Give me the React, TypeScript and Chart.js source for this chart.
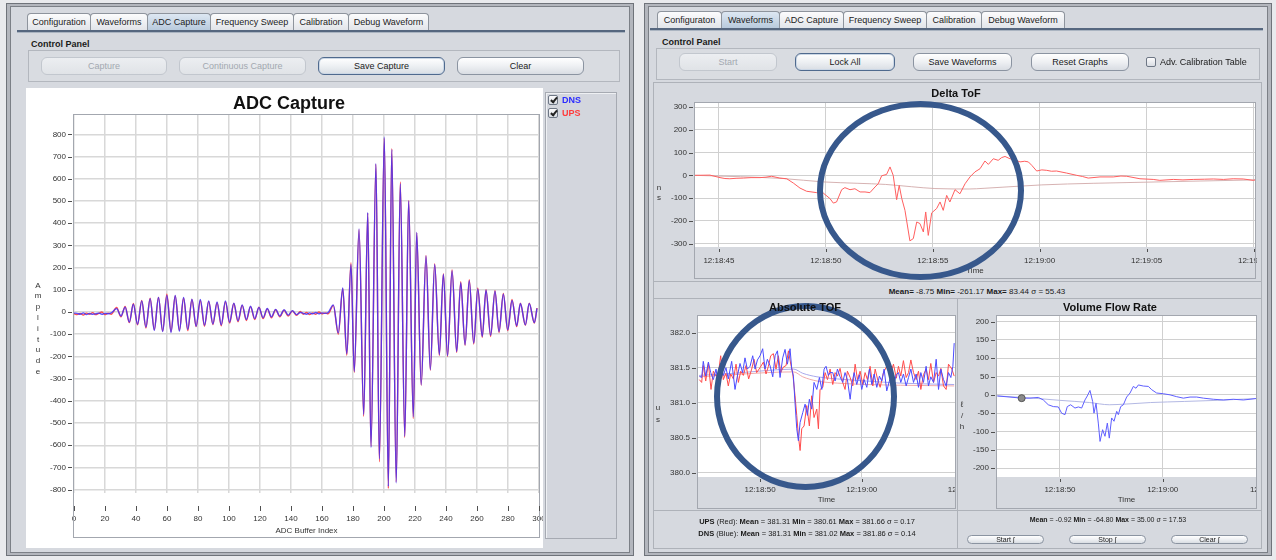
import React, { useEffect, useRef } from "react";
import { Chart, registerables } from "chart.js";
Chart.register(...registerables);

// ---------------- ADC Capture ----------------
const adcIndex = [0,2,4,6,8,10,12,14,16,18,
  20,22,24,27.5,30.3,33,35.7,38.3,41,43.7,
  46.4,49.1,51.8,54.5,57.2,59.9,62.6,65.3,68,70.7,
  73.4,76.1,78.8,81.5,84.2,86.9,89.6,92.3,95,97.7,
  100.4,103.1,105.8,108.5,111.2,113.9,116.6,119.3,122,124.7,
  127.4,130.1,132.8,135.5,138.2,140.9,143.6,146,148,150,
  152,154,156,158,160,162,164,167.3,170.5,173.4,
  176,178.7,180.8,183.9,186.9,189.5,191.6,194.8,197,200.2,
  202.8,205,207.9,210.5,213.4,215.9,218.9,221.1,224,227.1,
  229.9,232.7,235.7,238.3,241,243.9,246.9,249.5,252.3,255,
  257.9,260.5,263.4,265.8,268.8,271.6,274.2,277,279.8,282.6,
  285.6,288,291.2,293.7,297,298.7];
const adcUps = [-8,-12,-6,-14,-5,-10,-3,-12,-6,0,
  -12,-5,-10,20,-22,25,-48,38,-58,52,
  -72,62,-80,66,-86,80,-88,72,-82,62,
  -84,56,-66,52,-64,48,-56,42,-62,46,
  -50,38,-44,30,-38,24,-34,22,-30,14,
  -26,10,-22,8,-18,5,-15,2,-10,-2,
  -12,-4,-10,0,-8,-4,-8,30,-100,105,
  -195,222,-272,370,-470,445,-605,665,-675,782,
  -795,736,-765,585,-565,502,-480,356,-330,255,
  -262,218,-196,172,-200,190,-182,136,-150,145,
  -144,108,-114,100,-110,96,-92,84,-84,56,
  -66,40,-60,40,-50,18];
const adcDns = [-5,-6,-10,-4,-12,-6,-10,-8,-5,-10,
  -6,-8,-4,15,-18,22,-45,35,-55,50,
  -68,60,-82,65,-88,75,-92,74,-86,66,
  -78,58,-64,56,-60,50,-54,45,-58,50,
  -46,40,-40,32,-34,26,-30,20,-26,16,
  -22,12,-18,10,-14,6,-12,-2,-6,-10,
  -4,-8,-2,-8,-4,-6,-2,32,-94,108,
  -188,214,-268,374,-462,448,-610,668,-662,788,
  -785,732,-770,578,-560,500,-472,358,-328,252,
  -260,214,-192,170,-196,186,-178,132,-148,141,
  -140,104,-110,98,-105,94,-88,80,-80,52,
  -62,38,-58,38,-48,16];
const adcXTicks = [0,20,40,60,80,100,120,140,160,180,200,220,240,260,280,300];
const adcYTicks = [-800,-700,-600,-500,-400,-300,-200,-100,0,100,200,300,400,500,600,700,800];

// ---------------- Delta ToF (time = seconds after 12:18:00) ----------------
const deltaTime = [43.88,44.58,45.05,45.28,45.51,45.8,46.14,46.5,46.92,47.2,
  47.46,47.85,48.17,48.48,48.79,49.1,49.57,49.88,50.19,50.35,
  50.5,50.74,50.89,51.13,51.36,51.6,51.83,52.06,52.3,52.45,
  52.61,52.84,53.0,53.15,53.31,53.43,53.55,53.7,53.93,54.09,
  54.25,54.4,54.56,54.67,54.79,54.95,55.18,55.34,55.49,55.65,
  55.8,56.04,56.27,56.51,56.74,56.97,57.21,57.44,57.6,57.83,
  58.06,58.22,58.38,58.61,58.8,59.08,59.3,59.47,59.63,59.86,
  60.1,60.33,60.55,60.79,61.26,61.73,62.0,62.27,62.82,63.44,
  63.8,64.07,64.69,65.31,65.62,66.25,66.7,67.18,67.7,68.12,
  68.6,69.05,69.52,69.99,70.07];
const deltaValue = [0,1,-10,-14,-15,-13,-12,-10,-10,-8,
  -4,-12,-15,-34,-56,-70,-76,-78,-102,-122,
  -117,-63,-54,-63,-59,-73,-73,-76,-51,-37,
  -2,4,37,0,-107,-44,-102,-154,-288,-278,
  -205,-212,-249,-161,-264,-165,-146,-117,-154,-88,
  -117,-63,-81,-37,-7,15,29,63,48,73,
  66,78,83,73,70,59,62,59,44,19,
  24,22,18,19,10,0,-5,-12,-7,-7,
  -3,-4,-15,-18,-22,-18,-20,-18,-17,-16,
  -18,-15,-16,-22,-20];
const deltaAvgTime = [43.88,46,48,49.9,51.5,52.8,54,55.1,56.7,57.4,58.8,60.1,62.5,65,67.5,70.07];
const deltaAvgValue = [0,-6,-14,-29,-35,-40,-50,-58,-60,-57,-49,-42,-35,-30,-25,-20];
const deltaTimeTicks = [45,50,55,60,65,70];
const deltaYTicks = [-300,-200,-100,0,100,200,300];

// ---------------- Absolute TOF ----------------
const absDnsTime = [44.03,44.26,44.42,44.66,44.92,45.15,45.41,45.67,45.90,46.13,
  46.39,46.65,46.88,47.21,47.54,47.77,48.03,48.29,48.52,48.75,
  49.02,49.28,49.51,49.74,50.00,50.26,50.49,50.72,50.98,51.25,
  51.48,51.71,51.97,52.23,52.46,52.69,52.95,53.12,53.28,53.44,
  53.61,53.77,53.94,54.20,54.43,54.66,54.85,55.08,55.31,55.58,
  55.84,56.07,56.30,56.49,56.72,56.89,57.15,57.38,57.61,57.87,
  58.13,58.36,58.59,58.86,59.02,59.25,59.51,59.77,60.00,60.23,
  60.50,60.76,60.99,61.22,61.48,61.74,61.97,62.20,62.46,62.79,
  63.12,63.40,63.61,63.84,64.10,64.37,64.60,64.83,65.09,65.35,
  65.58,65.81,66.07,66.33,66.56,66.79,67.06,67.32,67.55,67.78,
  68.04,68.30,68.53,68.76,68.96,69.09];
const absDnsValue = [381.38,381.36,381.59,381.38,381.58,381.43,381.33,381.48,381.26,381.43,
  381.39,381.50,381.34,381.59,381.19,381.38,381.56,381.43,381.64,381.48,
  381.52,381.67,381.48,381.61,381.67,381.77,381.48,381.62,381.53,381.37,
  381.67,381.74,381.36,381.64,381.76,381.55,381.77,381.48,381.38,381.00,
  380.63,380.46,380.72,380.86,380.98,380.82,381.05,380.91,381.29,381.19,
  381.36,381.19,381.48,381.52,381.39,381.43,381.43,381.31,381.48,381.37,
  381.29,381.43,381.33,381.05,381.26,381.43,381.26,381.40,381.19,381.33,
  381.22,381.48,381.26,381.41,381.22,381.38,381.31,381.48,381.17,381.35,
  381.25,381.40,381.43,381.29,381.41,381.24,381.36,381.48,381.29,381.41,
  381.22,381.43,381.29,381.52,381.24,381.37,381.29,381.62,381.19,381.48,
  381.33,381.24,381.43,381.36,381.52,381.85];
const absUpsTime = [44.03,44.26,44.42,44.66,44.92,45.18,45.41,45.67,45.90,46.13,
  46.39,46.65,46.88,47.11,47.38,47.64,47.87,48.10,48.36,48.62,
  48.88,49.18,49.41,49.67,50.00,50.33,50.59,50.82,51.05,51.31,
  51.57,51.80,52.03,52.30,52.56,52.79,53.02,53.21,53.44,53.61,
  53.77,53.94,54.10,54.33,54.59,54.85,55.08,55.31,55.58,55.74,
  55.90,56.17,56.40,56.63,56.89,57.15,57.38,57.61,57.87,58.13,
  58.36,58.59,58.86,59.12,59.35,59.58,59.84,60.10,60.33,60.56,
  60.82,61.09,61.32,61.55,61.81,62.14,62.46,62.79,63.12,63.40,
  63.61,63.84,64.10,64.37,64.60,64.83,65.09,65.35,65.58,65.81,
  66.07,66.33,66.56,66.79,67.06,67.32,67.55,67.78,68.04,68.30,
  68.53,68.86,69.09];
const absUpsValue = [381.33,381.29,381.53,381.31,381.56,381.19,381.45,381.38,381.41,381.67,
  381.33,381.42,381.24,381.41,381.34,381.55,381.29,381.45,381.39,381.53,
  381.34,381.48,381.62,381.43,381.50,381.58,381.41,381.52,381.67,381.70,
  381.48,381.67,381.43,381.51,381.53,381.74,381.55,381.43,381.10,380.82,
  380.53,380.32,380.63,380.67,380.96,380.67,381.10,380.79,380.91,380.63,
  381.19,381.22,381.43,381.33,381.48,381.26,381.43,381.38,381.49,381.29,
  381.19,381.45,381.36,381.24,381.55,381.33,381.45,381.26,381.43,381.33,
  381.52,381.24,381.48,381.34,381.22,381.43,381.52,381.40,381.55,381.35,
  381.52,381.38,381.60,381.36,381.43,381.61,381.43,381.33,381.45,381.19,
  381.40,381.48,381.33,381.56,381.29,381.43,381.38,381.49,381.24,381.19,
  381.55,381.48,381.38];
const absAvgTime = [44.03,47.4,50.7,53.3,54.2,55.6,57.6,60.5,63.8,69.09];
const absDnsAvgValue = [381.39,381.42,381.46,381.48,381.42,381.37,381.34,381.31,381.28,381.26];
const absUpsAvgValue = [381.37,381.40,381.43,381.44,381.37,381.31,381.28,381.26,381.25,381.24];
const absTimeTicks = [50,60,70];
const absYTicks = [380.0,380.5,381.0,381.5,382.0];

// ---------------- Volume Flow Rate ----------------
const vfrTime = [43.90,45.13,46.27,47.08,47.89,48.38,48.86,49.35,49.84,50.16,
  50.49,50.71,51.04,51.46,51.79,52.11,52.43,52.66,52.92,53.18,
  53.31,53.51,53.73,53.90,54.15,54.38,54.61,54.80,55.03,55.26,
  55.52,55.68,55.91,56.17,56.49,56.82,57.14,57.40,57.63,58.12,
  58.60,58.93,59.41,60.06,60.71,61.36,62.01,62.66,63.31,63.96,
  64.93,65.91,66.88,67.85,68.50,69.09];
const vfrValue = [-3,-6,-9,-9,-7,-14,-27,-32,-33,-50,
  -54,-32,-27,-36,-33,-36,-14,-3,12,-18,
  -50,-23,-77,-127,-95,-113,-77,-118,-63,-72,
  -45,-54,-32,-27,-6,5,23,18,27,24,
  23,14,5,3,0,-5,-9,-6,-6,-9,
  -12,-14,-12,-14,-12,-10];
const vfrAvgTime = [43.9,47.4,50,52.9,54.8,56.5,58.8,62.1,65.3,69.09];
const vfrAvgValue = [-3,-9,-15,-21,-27,-25,-21,-18,-15,-10];
const vfrMarkerTime = [46.27];
const vfrMarkerValue = [-9];
const vfrTimeTicks = [50,60,70];
const vfrYTicks = [-200,-150,-100,-50,0,50,100,150,200];

// ---------------- helpers ----------------
const FONT = "'Liberation Sans', Arial, 'DejaVu Sans', sans-serif";
const xy = (xs: number[], ys: number[]) => xs.map((x, i) => ({ x, y: ys[i] }));
const timeLabel = (s: number) => {
  const total = 18 * 60 + Math.round(s);
  const m = Math.floor(total / 60);
  const sec = total % 60;
  return `12:${String(m).padStart(2, "0")}:${String(sec).padStart(2, "0")}`;
};
// order: lower numbers are drawn on top
const line = (data: any[], color: string, width: number, smooth: boolean, order: number) => ({
  data, borderColor: color, backgroundColor: color, borderWidth: width, pointRadius: 0, fill: false,
  tension: 0, cubicInterpolationMode: smooth ? "monotone" : "default", order,
});

type Spec = any;

function makeConfig(s: Spec): any {
  const tickFont = { family: FONT, size: 8 };
  const plugin = {
    id: "frame",
    beforeDraw(chart: any) {
      const { ctx, chartArea: a } = chart;
      if (s.bg) {
        ctx.save();
        ctx.fillStyle = "#ffffff";
        ctx.fillRect(a.left, a.top, a.right - a.left, a.bottom - a.top);
        ctx.restore();
      }
    },
    afterDraw(chart: any) {
      const { ctx, chartArea: a, scales } = chart;
      ctx.save();
      ctx.strokeStyle = "#a3a7af";
      ctx.lineWidth = 1;
      ctx.strokeRect(Math.round(a.left) - 0.5, Math.round(a.top) - 0.5, Math.round(a.right - a.left) + 1, s.boxBottom - Math.round(a.top) + 1);
      ctx.strokeStyle = "#505050";
      ctx.beginPath();
      for (const v of s.yTicks) {
        const py = Math.round(scales.y.getPixelForValue(v)) + 0.5;
        ctx.moveTo(a.left - 6, py); ctx.lineTo(a.left - 2, py);
      }
      for (const v of s.xTicks) {
        const px = Math.round(scales.x.getPixelForValue(v)) + 0.5;
        ctx.moveTo(px, a.bottom + s.xMark[0]); ctx.lineTo(px, a.bottom + s.xMark[1]);
      }
      ctx.stroke();
      ctx.restore();
    },
  };
  return {
    type: "line",
    data: { datasets: s.datasets },
    plugins: [plugin],
    options: {
      animation: false,
      responsive: false,
      maintainAspectRatio: false,
      events: [],
      layout: { padding: { left: 0, top: s.area.t, right: s.w - s.area.r, bottom: 0 } },
      plugins: { legend: { display: false }, tooltip: { enabled: false }, title: { display: false } },
      scales: {
        x: {
          type: "linear", min: s.xMin, max: s.xMax,
          border: { display: false },
          grid: { color: s.gridColor, lineWidth: s.gridWidth, drawTicks: false },
          ticks: { font: tickFont, color: "#333", padding: s.xLabelPad, maxRotation: 0, autoSkip: false,
            callback: (v: any) => s.xFmt(Number(v)) },
          afterBuildTicks: (sc: any) => { sc.ticks = s.xTicks.map((v: number) => ({ value: v })); },
          afterFit: (sc: any) => { sc.height = s.h - s.area.b; sc.paddingLeft = 0; sc.paddingRight = 0; },
          title: { display: true, text: s.xTitle, font: tickFont, color: "#333", padding: { top: 0, bottom: s.xTitlePad } },
        },
        y: {
          type: "linear", min: s.yMin, max: s.yMax,
          border: { display: false },
          grid: { color: s.gridColor, lineWidth: s.gridWidth, drawTicks: false },
          ticks: { font: tickFont, color: "#333", padding: 8, autoSkip: false, callback: (v: any) => s.yFmt(Number(v)) },
          afterBuildTicks: (sc: any) => { sc.ticks = s.yTicks.map((v: number) => ({ value: v })); },
          afterFit: (sc: any) => { sc.width = s.area.l; sc.paddingTop = 0; sc.paddingBottom = 0; },
        },
      },
    },
  };
}

function ChartBox({ spec, left, top, clipW, bg }: any) {
  const ref = useRef<HTMLCanvasElement>(null);
  useEffect(() => {
    const c = new Chart(ref.current as HTMLCanvasElement, makeConfig(spec));
    return () => c.destroy();
  }, []);
  return (
    <div style={{ position: "absolute", left, top, width: clipW, height: spec.h, overflow: "hidden", background: bg || "transparent" }}>
      <canvas ref={ref} width={spec.w} height={spec.h} style={{ display: "block", width: spec.w, height: spec.h }} />
    </div>
  );
}

const S = (l: number, t: number, w: number, h: number, x: any = {}): any => ({
  position: "absolute", left: l, top: t, width: w, height: h, boxSizing: "border-box", ...x,
});

function Tab({ l, r, t, text, sel }: any) {
  return (
    <div style={S(l, t, r - l + 1, 18, {
      border: "1px solid #8e949d", borderBottom: "none", borderRadius: "4px 4px 0 0",
      background: sel ? "linear-gradient(#dde7f2,#b6c8db)" : "linear-gradient(#fcfcfd,#e0e3e8)",
      font: `9px ${FONT}`, color: "#1c1c1c", textAlign: "center", lineHeight: "17px", whiteSpace: "nowrap", overflow: "hidden",
    })}>{text}</div>
  );
}

function Btn({ l, t, w, h, text, kind, fs = 9 }: any) {
  const base: any = {
    borderRadius: h > 12 ? 6 : 5, font: `${fs}px ${FONT}`, textAlign: "center", lineHeight: `${h - 2}px`, whiteSpace: "nowrap", overflow: "hidden",
  };
  if (kind === "disabled") {
    Object.assign(base, { border: "1px solid #c2c7ce", background: "linear-gradient(#eceef1,#e0e3e7)", color: "#a2a8b0" });
  } else if (kind === "default") {
    Object.assign(base, { border: "1px solid #4f6a8e", boxShadow: "inset 0 0 0 1px #cbd7e5", background: "linear-gradient(#ffffff,#edf0f3 50%,#d9dee4)", color: "#1a1a1a" });
  } else {
    Object.assign(base, { border: "1px solid #8b94a1", background: "linear-gradient(#ffffff,#eef0f3 50%,#d9dde3)", color: "#1a1a1a" });
  }
  return <div style={S(l, t, w, h, base)}>{text}</div>;
}

function Txt({ cx, cy, fs, bold, color = "#1a1a1a", children, align = "center", l }: any) {
  const h = Math.round(fs * 1.3);
  const st: any = { font: `${bold ? "bold " : ""}${fs}px ${FONT}`, color, lineHeight: `${h}px`, whiteSpace: "nowrap" };
  if (align === "left") return <div style={S(l, cy - h / 2, 300, h, st)}>{children}</div>;
  return <div style={S(cx - 200, cy - h / 2, 400, h, { ...st, textAlign: "center" })}>{children}</div>;
}

function VText({ cx, y0, step, text, fs = 8 }: any) {
  return (
    <div style={S(cx - 8, y0 - step / 2, 16, step * text.length, { font: `${fs}px ${FONT}`, color: "#333", textAlign: "center", lineHeight: `${step}px` })}>
      {text.split("").map((c: string, i: number) => <div key={i}>{c}</div>)}
    </div>
  );
}

function CheckBox({ l, t, checked }: any) {
  return (
    <div style={S(l, t, 10, 10, { border: "1px solid #6e7785", borderRadius: 2, background: "linear-gradient(#fbfbfc,#d9dde3)" })}>
      {checked ? <div style={S(2.5, 0, 4, 7, { borderRight: "2px solid #222", borderBottom: "2px solid #222", transform: "rotate(40deg)" })} /> : null}
    </div>
  );
}

const B = ({ children }: any) => <b>{children}</b>;

// ---------------- chart specs ----------------
const adcSpec: Spec = {
  w: 517, h: 460, area: { l: 48, t: 27, r: 513, b: 405 }, boxBottom: 449, bg: false,
  xMin: 0, xMax: 300, yMin: -815, yMax: 887, xTicks: adcXTicks, yTicks: adcYTicks,
  xFmt: (v: number) => String(v), yFmt: (v: number) => String(v),
  xLabelPad: 21, xTitle: "ADC Buffer Index", xTitlePad: 12, xMark: [13, 18],
  gridColor: "#d8d8d8", gridWidth: 1.5,
  datasets: [
    line(xy(adcIndex, adcUps), "rgba(255,70,70,0.95)", 1.4, true, 2),
    line(xy(adcIndex, adcDns), "rgba(55,45,255,0.8)", 1.4, true, 1),
  ],
};
const deltaSpec: Spec = {
  w: 640, h: 196, area: { l: 42, t: 19, r: 602, b: 163 }, boxBottom: 194, bg: true,
  xMin: 43.88, xMax: 70.07, yMin: -315, yMax: 318, xTicks: deltaTimeTicks, yTicks: deltaYTicks,
  xFmt: timeLabel, yFmt: (v: number) => String(v),
  xLabelPad: 9, xTitle: "Time", xTitlePad: 4, xMark: [2, 5],
  gridColor: "#d0d0d0", gridWidth: 1,
  datasets: [
    line(xy(deltaAvgTime, deltaAvgValue), "rgba(210,170,170,0.9)", 1, true, 2),
    line(xy(deltaTime, deltaValue), "rgb(255,95,95)", 1, false, 1),
  ],
};
const absSpec: Spec = {
  w: 340, h: 210, area: { l: 44, t: 16, r: 301, b: 177 }, boxBottom: 208, bg: true,
  xMin: 43.9, xMax: 69.17, yMin: 379.943, yMax: 382.236, xTicks: absTimeTicks, yTicks: absYTicks,
  xFmt: timeLabel, yFmt: (v: number) => v.toFixed(1),
  xLabelPad: 8, xTitle: "Time", xTitlePad: 5, xMark: [2, 5],
  gridColor: "#d0d0d0", gridWidth: 1,
  datasets: [
    line(xy(absAvgTime, absUpsAvgValue), "rgba(240,165,165,0.95)", 1, true, 4),
    line(xy(absAvgTime, absDnsAvgValue), "rgba(165,165,235,0.95)", 1, true, 3),
    line(xy(absUpsTime, absUpsValue), "rgb(255,75,75)", 1, false, 2),
    line(xy(absDnsTime, absDnsValue), "rgb(75,75,255)", 1, false, 1),
  ],
};
const vfrSpec: Spec = {
  w: 340, h: 210, area: { l: 39, t: 16, r: 298, b: 177 }, boxBottom: 208, bg: true,
  xMin: 43.87, xMax: 69.08, yMin: -224, yMax: 215, xTicks: vfrTimeTicks, yTicks: vfrYTicks,
  xFmt: timeLabel, yFmt: (v: number) => String(v),
  xLabelPad: 8, xTitle: "Time", xTitlePad: 5, xMark: [2, 5],
  gridColor: "#d0d0d0", gridWidth: 1,
  datasets: [
    line(xy(vfrAvgTime, vfrAvgValue), "rgba(175,180,225,0.95)", 1, true, 3),
    line(xy(vfrTime, vfrValue), "rgb(95,95,255)", 1, false, 2),
    { data: xy(vfrMarkerTime, vfrMarkerValue), showLine: false, pointRadius: 3.5, pointBackgroundColor: "#8a8a8a", pointBorderColor: "#555", pointBorderWidth: 1, borderColor: "#555", order: 1 },
  ],
};

const leftTabs = [
  { l: 27, r: 90, text: "Configuration" }, { l: 90, r: 147, text: "Waveforms" }, { l: 147, r: 210, text: "ADC Capture", sel: true },
  { l: 210, r: 293, text: "Frequency Sweep" }, { l: 293, r: 348, text: "Calibration" }, { l: 348, r: 428, text: "Debug Waveform" },
];
const rightTabs = [
  { l: 657, r: 721, text: "Configuraton" }, { l: 721, r: 779, text: "Waveforms", sel: true }, { l: 779, r: 843, text: "ADC Capture" },
  { l: 843, r: 926, text: "Frequency Sweep" }, { l: 926, r: 981, text: "Calibration" }, { l: 981, r: 1064, text: "Debug Waveform" },
];

export default function App() {
  const panelBg = "#d6d9df";
  const secBorder = "1px solid #aeb2b9";
  return (
    <div style={S(0, 0, 1276, 560, { background: "#e9eaed", overflow: "hidden", fontFamily: FONT })}>
      {/* ---------- left window ---------- */}
      <div style={S(6, 3, 628, 553, { border: "1px solid #6f737a", background: "#b3b6bd" })} />
      <div style={S(10, 6, 620, 547, { border: "1px solid #7c8087", background: panelBg })} />
      {leftTabs.map((t, i) => <Tab key={i} l={t.l} r={t.r} t={13} text={t.text} sel={t.sel} />)}
      <div style={S(17, 30, 608, 2, { background: "#56677f" })} />
      <div style={S(17, 32, 608, 1, { background: "#aab4c1" })} />
      <Txt l={31} cy={44} fs={9} bold align="left">Control Panel</Txt>
      <div style={S(28, 50, 592, 32, { border: "1px solid #b3b7be", background: "#d9dce1" })} />
      <Btn l={41} t={57} w={126} h={18} text="Capture" kind="disabled" />
      <Btn l={179} t={57} w={127} h={18} text="Continuous Capture" kind="disabled" />
      <Btn l={318} t={57} w={127} h={18} text="Save Capture" kind="default" />
      <Btn l={457} t={57} w={127} h={18} text="Clear" />
      <ChartBox spec={adcSpec} left={26} top={88} clipW={517} bg="#ffffff" />
      <Txt cx={289} cy={103} fs={18} bold color="#111">ADC Capture</Txt>
      <VText cx={38} y0={286} step={10.8} text="Amplitude" />
      <div style={S(545, 92, 72, 447, { border: "1px solid #a6aab2", boxShadow: "inset 1px 1px 0 #eef0f3", background: "#d3d6dd" })} />
      <CheckBox l={548} t={95} checked />
      <Txt l={562} cy={100} fs={9} bold color="#2b2bff" align="left">DNS</Txt>
      <CheckBox l={548} t={108} checked />
      <Txt l={562} cy={113} fs={9} bold color="#ff3b3b" align="left">UPS</Txt>

      {/* ---------- right window ---------- */}
      <div style={S(644, 3, 628, 553, { border: "1px solid #6f737a", background: "#b3b6bd" })} />
      <div style={S(648, 6, 620, 547, { border: "1px solid #7c8087", background: panelBg })} />
      {rightTabs.map((t, i) => <Tab key={i} l={t.l} r={t.r} t={11} text={t.text} sel={t.sel} />)}
      <div style={S(650, 28, 613, 2, { background: "#56677f" })} />
      <div style={S(650, 30, 613, 1, { background: "#aab4c1" })} />
      <Txt l={662} cy={42} fs={9} bold align="left">Control Panel</Txt>
      <div style={S(656, 48, 604, 32, { border: "1px solid #b3b7be", background: "#d9dce1" })} />
      <Btn l={679} t={53} w={98} h={18} text="Start" kind="disabled" />
      <Btn l={795} t={53} w={100} h={18} text="Lock All" kind="default" />
      <Btn l={913} t={53} w={99} h={18} text="Save Waveforms" />
      <Btn l={1031} t={53} w={98} h={18} text="Reset Graphs" />
      <CheckBox l={1146} t={57} />
      <Txt l={1160} cy={62} fs={9} align="left">Adv. Calibration Table</Txt>

      {/* Delta ToF section */}
      <div style={S(653, 82, 609, 217, { border: secBorder })} />
      <div style={S(653, 281, 609, 1, { background: "#aeb2b9" })} />
      <ChartBox spec={deltaSpec} left={653} top={84} clipW={604} />
      <Txt cx={956} cy={93} fs={11} bold color="#111">Delta ToF</Txt>
      <VText cx={659} y0={188} step={10.6} text="ns" />
      <Txt cx={977} cy={292} fs={8}><B>Mean=</B> -8.75 <B>Min=</B> -261.17 <B>Max=</B> 83.44 σ = 55.43</Txt>

      {/* Absolute TOF section */}
      <div style={S(653, 298, 305, 251, { border: secBorder })} />
      <div style={S(653, 510, 305, 1, { background: "#aeb2b9" })} />
      <ChartBox spec={absSpec} left={654} top={300} clipW={302} />
      <VText cx={658} y0={408} step={11.5} text="us" />
      <Txt cx={807} cy={522} fs={7.5}><B>UPS</B> (Red): <B>Mean</B> = 381.31 <B>Min</B> = 380.61 <B>Max</B> = 381.66 σ = 0.17</Txt>
      <Txt cx={807} cy={534} fs={7.5}><B>DNS</B> (Blue): <B>Mean</B> = 381.31 <B>Min</B> = 381.02 <B>Max</B> = 381.86 σ = 0.14</Txt>

      {/* Volume Flow Rate section */}
      <div style={S(957, 298, 305, 251, { border: secBorder })} />
      <div style={S(957, 510, 305, 1, { background: "#aeb2b9" })} />
      <ChartBox spec={vfrSpec} left={958} top={300} clipW={299} />
      <Txt cx={1110} cy={307} fs={11} bold color="#111">Volume Flow Rate</Txt>
      <VText cx={962} y0={404} step={11} text="ℓ/h" />
      <Txt cx={1108} cy={519} fs={7}><B>Mean</B> = -0.92 <B>Min</B> = -64.80 <B>Max</B> = 35.00 σ = 17.53</Txt>
      <Btn l={967} t={535} w={77} h={9} text="Start ∫" fs={7} />
      <Btn l={1069} t={535} w={77} h={9} text="Stop ∫" fs={7} />
      <Btn l={1171} t={535} w={77} h={9} text="Clear ∫" fs={7} />

      {/* annotation rings */}
      <div style={S(816.7, 100.7, 207.3, 179.3, { border: "6px solid #37588c", borderRadius: "50%" })} />
      <div style={S(714.3, 302.7, 183, 187.3, { border: "6px solid #37588c", borderRadius: "50%" })} />
      <Txt cx={805} cy={307} fs={11} bold color="#111">Absolute TOF</Txt>
    </div>
  );
}
